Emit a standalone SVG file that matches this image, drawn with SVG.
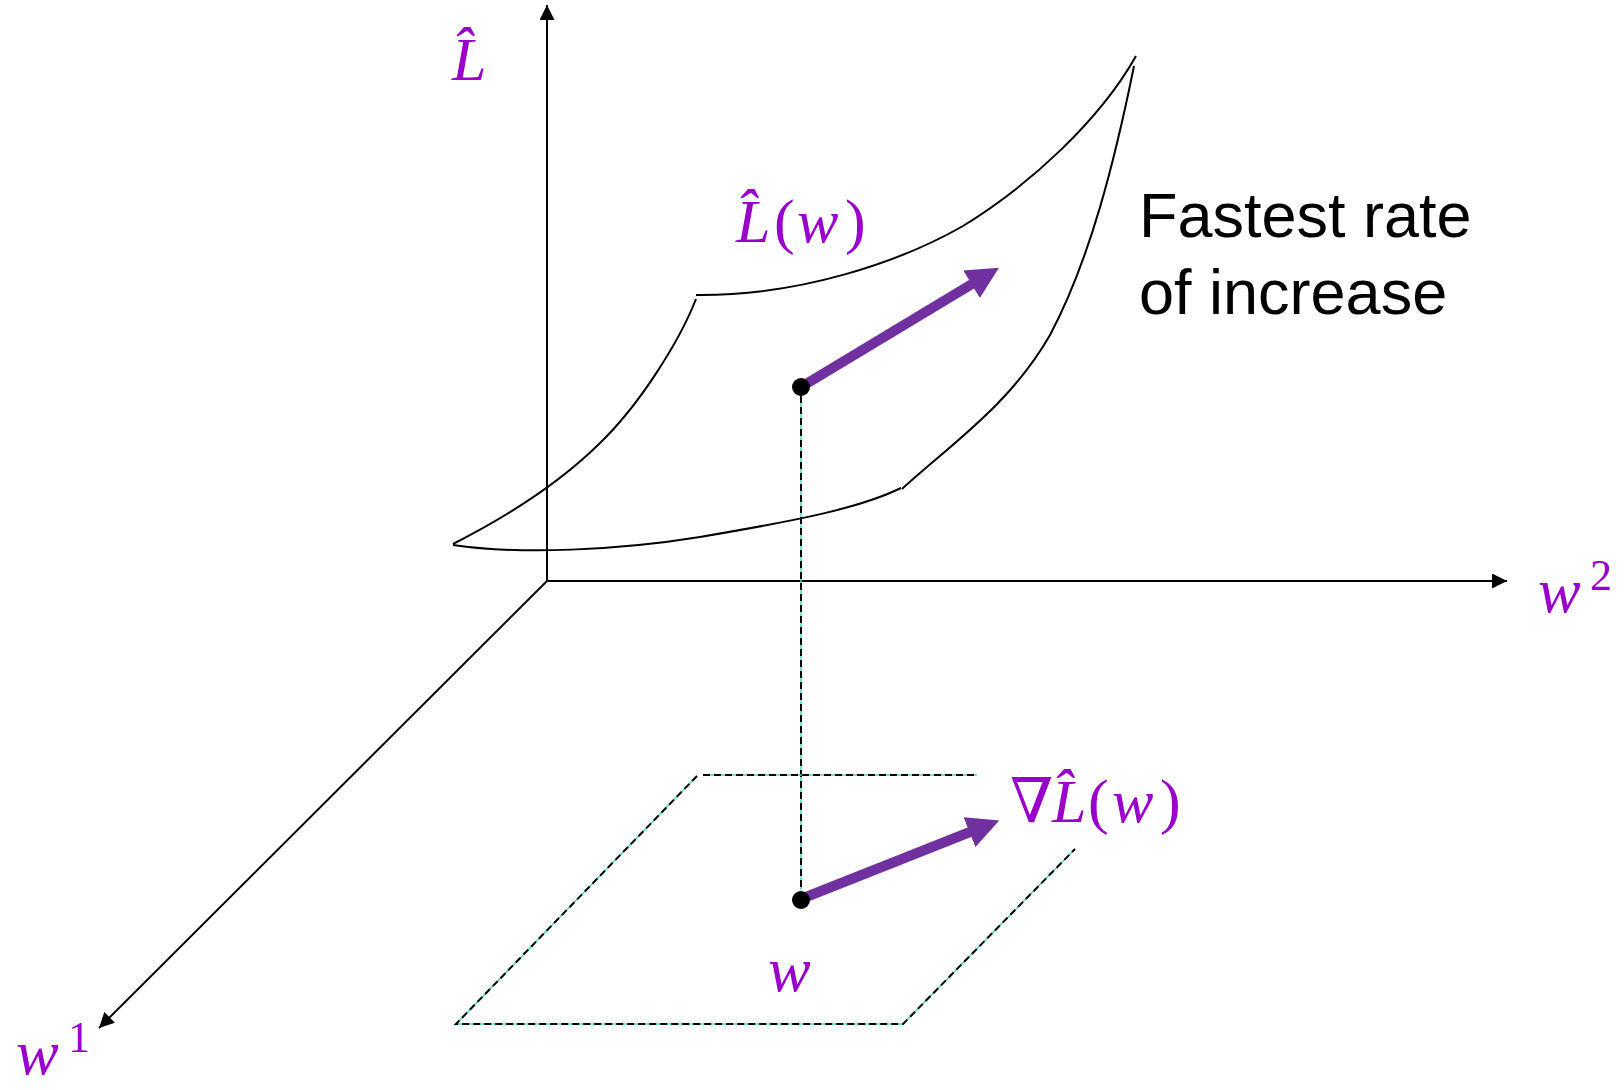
<svg xmlns="http://www.w3.org/2000/svg" width="1624" height="1090" viewBox="0 0 1624 1090">
  <style>
    .axis { stroke: #000; stroke-width: 2; fill: none; marker-end: url(#axisHead); }
    .curve { stroke: #000; stroke-width: 2; fill: none; }
    .teal { stroke: #40DDB8; stroke-width: 1.5; fill: none; }
    .dash { stroke: #000; stroke-width: 2; fill: none; stroke-dasharray: 7 4; }
    .vec { stroke: #7030A0; stroke-width: 10; fill: none; marker-end: url(#vecHead); }
    .math { font-family: "Liberation Serif", "DejaVu Serif", serif; fill: #9900CC; }
    .it { font-style: italic; }
    .plain { font-family: "Liberation Sans", Arial, sans-serif; font-size: 63px; fill: #000; }
  </style>
  <defs>
    <marker id="axisHead" markerUnits="userSpaceOnUse" markerWidth="16" markerHeight="16" refX="15" refY="7.5" orient="auto">
      <path d="M0,0 L15,7.5 L0,15 z" fill="#000"/>
    </marker>
    <marker id="vecHead" markerUnits="strokeWidth" markerWidth="3.2" markerHeight="3.2" viewBox="0 0 3 3" refX="0.05" refY="1.5" orient="auto">
      <path d="M0,0 L3,1.5 L0,3 z" fill="#7030A0"/>
    </marker>
  </defs>

  <g id="axes">
    <line class="axis" x1="547" y1="581" x2="547" y2="5"/>
    <line class="axis" x1="547" y1="581" x2="1507" y2="581"/>
    <line class="axis" x1="547" y1="581" x2="99" y2="1028"/>
  </g>

  <g id="surface">
    <path class="curve" d="M696,295 C800,296 900,262 963,226 C1030,185 1100,120 1136,56"/>
    <path class="curve" d="M696,299 C680,340 640,405 598,445 C560,482 510,515 453,544"/>
    <path class="curve" d="M453,545 C520,555 620,550 700,537 C800,520 860,508 901,488"/>
    <path class="curve" d="M1134,66 C1115,160 1090,260 1050,335 C1010,405 950,445 902,489"/>
  </g>

  <g id="connectors">
    <g id="projection">
      <line class="teal" x1="801" y1="396" x2="801" y2="890"/>
      <line class="dash" x1="801" y1="396" x2="801" y2="890"/>
    </g>
    <g id="plane">
      <path class="teal" d="M697,776 L456,1024 L903,1024 L1075,849"/>
      <path class="dash" d="M697,776 L456,1024 L903,1024 L1075,849"/>
      <line class="teal" x1="703" y1="775" x2="977" y2="775"/>
      <line class="dash" x1="703" y1="775" x2="977" y2="775"/>
    </g>
    <line id="vec-surface" class="vec" x1="801" y1="387" x2="972" y2="284"/>
    <line id="vec-plane" class="vec" x1="801" y1="899" x2="970" y2="832"/>
  </g>

  <g id="point-surface">
    <circle cx="801" cy="387" r="9" fill="#000"/>
  </g>
  <g id="point-plane">
    <circle cx="801" cy="900" r="9" fill="#000"/>
  </g>

  <g id="label-Lhat">
    <text class="math it" x="452" y="80" font-size="62">L̂</text>
  </g>
  <g id="label-Lw">
    <text class="math" y="242" font-size="62"><tspan class="it" x="736">L̂</tspan><tspan x="774">(</tspan><tspan class="it" x="797">w</tspan><tspan x="845">)</tspan></text>
  </g>
  <g id="label-grad">
    <text class="math" y="822" font-size="62"><tspan x="1010">∇</tspan><tspan class="it" x="1052">L̂</tspan><tspan x="1088">(</tspan><tspan class="it" x="1112">w</tspan><tspan x="1160">)</tspan></text>
  </g>
  <g id="label-fastest">
    <text class="plain" x="1139" y="237">Fastest rate</text>
    <text class="plain" x="1139" y="314">of increase</text>
  </g>
  <g id="label-w">
    <text class="math it" x="768" y="991" font-size="64">w</text>
  </g>
  <g id="label-w2">
    <text class="math it" x="1538" y="612" font-size="64">w</text>
    <text class="math" x="1590" y="590" font-size="44">2</text>
  </g>
  <g id="label-w1">
    <text class="math it" x="16" y="1074" font-size="64">w</text>
    <text class="math" x="68" y="1052" font-size="44">1</text>
  </g>
</svg>
